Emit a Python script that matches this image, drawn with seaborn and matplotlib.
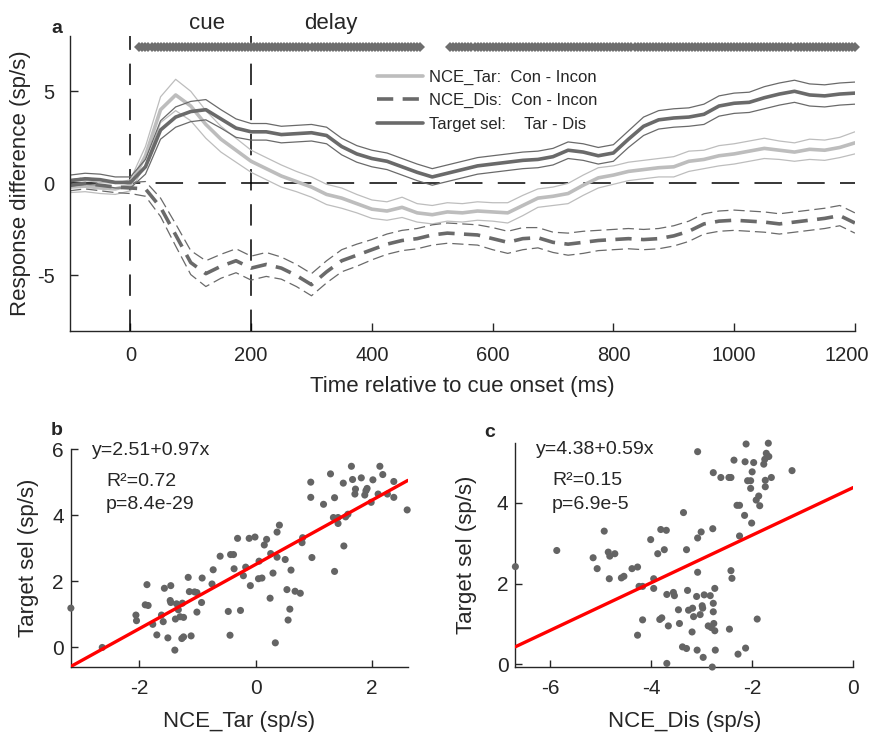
import numpy as np
import pandas as pd
import seaborn as sns
import matplotlib
matplotlib.use('Agg')
import matplotlib.pyplot as plt
import matplotlib.transforms as mtransforms

# ---- panel a: population time courses (ms, sp/s) ----
time_ms = list(range(-100, 1201, 25))

tar_mean = [-0.2, -0.15, -0.25, -0.3, -0.1, 1.5, 4.0, 4.8, 4.2, 3.2, 2.4, 1.8, 1.2,
            0.8, 0.4, 0.1, -0.2, -0.6, -0.8, -1.1, -1.4, -1.5, -1.3, -1.6, -1.7, -1.55,
            -1.6, -1.5, -1.55, -1.6, -1.2, -0.8, -0.7, -0.55, -0.1, 0.3, 0.45, 0.65,
            0.75, 0.85, 0.9, 1.2, 1.3, 1.5, 1.6, 1.75, 1.9, 1.8, 1.7, 1.85, 1.8, 1.95, 2.2]
tar_sem = [0.3, 0.3, 0.3, 0.3, 0.3, 0.5, 0.7, 0.85, 0.8, 0.75, 0.7, 0.65, 0.6,
           0.6, 0.6, 0.55, 0.55, 0.55, 0.55, 0.5, 0.5, 0.5, 0.55, 0.5, 0.5, 0.5,
           0.5, 0.5, 0.5, 0.55, 0.55, 0.5, 0.5, 0.55, 0.55, 0.55, 0.5, 0.5,
           0.5, 0.5, 0.55, 0.55, 0.5, 0.55, 0.55, 0.55, 0.55, 0.5, 0.5, 0.55, 0.55, 0.55, 0.6]

dis_mean = [-0.1, 0.0, -0.1, -0.2, -0.25, -0.3, -1.3, -2.8, -4.3, -4.9, -4.5, -4.2, -4.6,
            -4.4, -4.6, -5.0, -5.5, -4.8, -4.2, -3.9, -3.6, -3.3, -3.1, -3.0, -2.8, -2.7,
            -2.75, -2.8, -3.0, -3.2, -3.0, -2.95, -3.2, -3.3, -3.2, -3.1, -3.05, -3.0,
            -3.05, -3.0, -2.85, -2.6, -2.2, -2.05, -2.0, -2.05, -2.1, -2.2, -2.1, -2.0,
            -1.9, -1.75, -2.15]
dis_sem = [0.3, 0.3, 0.3, 0.3, 0.3, 0.4, 0.5, 0.6, 0.65, 0.7, 0.65, 0.65, 0.65,
           0.65, 0.6, 0.6, 0.6, 0.6, 0.6, 0.6, 0.55, 0.55, 0.55, 0.55, 0.55, 0.55,
           0.55, 0.55, 0.6, 0.6, 0.6, 0.55, 0.55, 0.6, 0.6, 0.55, 0.55, 0.55,
           0.55, 0.55, 0.55, 0.55, 0.55, 0.55, 0.55, 0.55, 0.55, 0.55, 0.55, 0.55,
           0.55, 0.55, 0.55]

tgt_mean = [0.15, 0.25, 0.2, 0.05, 0.05, 0.9, 2.9, 3.6, 3.9, 4.0, 3.5, 3.0, 2.8,
            2.8, 2.65, 2.7, 2.75, 2.6, 2.0, 1.6, 1.35, 1.2, 0.9, 0.6, 0.35, 0.55,
            0.75, 0.95, 1.05, 1.15, 1.25, 1.3, 1.45, 1.8, 1.7, 1.5, 1.65, 2.4,
            3.1, 3.45, 3.55, 3.6, 3.75, 4.2, 4.35, 4.4, 4.65, 4.85, 5.0, 4.8, 4.75,
            4.85, 4.9]
tgt_sem = [0.3, 0.3, 0.3, 0.3, 0.3, 0.4, 0.5, 0.55, 0.55, 0.55, 0.5, 0.5, 0.45,
           0.45, 0.45, 0.45, 0.45, 0.45, 0.45, 0.45, 0.45, 0.45, 0.45, 0.45, 0.45, 0.45,
           0.45, 0.45, 0.45, 0.45, 0.45, 0.45, 0.45, 0.45, 0.45, 0.45, 0.45, 0.45,
           0.5, 0.5, 0.5, 0.5, 0.55, 0.55, 0.55, 0.55, 0.6, 0.6, 0.6, 0.6, 0.6,
           0.6, 0.6]

# significant time windows (ms) of the target selectivity
sig_windows = [(15, 480), (530, 1200)]
sig_step = 5

# ---- panel b: Target sel vs NCE_Tar ----
b_x = [-3.18, -2.64, -2.06, -2.05, -1.87, -1.90, -1.85, -1.77, -1.70, -1.57, -1.59, -1.62,
       -1.46, -1.47, -1.46, -1.51, -1.39, -1.36, -1.33, -1.30, -1.38, -1.26, -1.27, -1.24,
       -1.24, -1.16, -1.14, -1.11, -1.05, -1.01, -1.01, -0.93, -0.92, -0.75, -0.73, -0.61,
       -0.47, -0.44, -0.43, -0.38, -0.37, -0.31, -0.26, -0.21, -0.17, -0.11, -0.09, -0.01,
       0.05, 0.06, 0.11, 0.15, 0.19, 0.25, 0.26, 0.30, 0.34, 0.37, 0.37, 0.41, 0.51, 0.54,
       0.56, 0.59, 0.61, 0.68, 0.77, 0.81, 0.80, 0.95, 0.95, 0.97, 1.17, 1.29, 1.34, 1.36,
       1.36, 1.42, 1.42, 1.51, 1.52, 1.55, 1.59, 1.65, 1.67, 1.71, 1.72, 1.82, 1.88, 1.90,
       1.92, 1.99, 2.02, 2.14, 2.19, 2.11, 2.27, 2.38, 2.38, 2.61]
b_y = [1.19, 0.00, 0.98, 0.81, 1.90, 1.29, 1.27, 0.70, 0.38, 1.79, 0.78, 0.98,
       1.87, 1.42, 1.36, 0.29, -0.08, 1.32, 1.14, 0.93, 0.86, 1.34, 0.27, 0.32,
       0.91, 2.12, 1.69, 0.35, 1.68, 1.66, 1.07, 1.36, 2.10, 1.92, 2.35, 2.76,
       1.09, 0.37, 2.81, 2.81, 2.38, 3.30, 1.12, 2.17, 2.43, 3.30, 1.87, 3.34,
       2.08, 2.61, 2.10, 3.10, 3.27, 1.49, 2.84, 2.25, 0.14, 3.49, 2.73, 3.70, 2.66, 1.75,
       0.83, 1.16, 2.34, 1.70, 1.64, 3.32, 3.17, 5.00, 4.54, 2.72, 4.33, 5.25, 3.93, 4.53,
       2.30, 3.75, 3.93, 4.97, 3.07, 3.95, 4.03, 5.48, 5.08, 4.64, 4.79, 5.13, 4.61, 4.74,
       4.81, 4.39, 5.07, 5.48, 5.23, 4.64, 4.64, 4.54, 5.02, 4.16]
b_fit = (2.51, 0.97)  # intercept, slope
b_stats = ['y=2.51+0.97x', 'R\u00b2=0.72', 'p=8.4e-29']

# ---- panel c: Target sel vs NCE_Dis ----
c_x = [-6.69, -5.87, -5.15, -5.07, -4.93, -4.85, -4.82, -4.83, -4.72, -4.59, -4.54, -4.38,
       -4.27, -4.27, -4.24, -4.17, -4.17, -4.01, -3.95, -3.95, -3.87, -3.83, -3.79, -3.81,
       -3.70, -3.74, -3.69, -3.69, -3.66, -3.56, -3.54, -3.46, -3.44, -3.36, -3.38, -3.30,
       -3.30, -3.28, -3.26, -3.19, -3.18, -3.16, -3.10, -3.08, -3.08, -3.08, -3.09, -3.03,
       -3.01, -2.99, -2.98, -2.97, -2.95, -2.87, -2.83, -2.81, -2.79, -2.78, -2.77, -2.77,
       -2.77, -2.76, -2.74, -2.74, -2.73, -2.62, -2.46, -2.42, -2.45, -2.42, -2.40, -2.36,
       -2.30, -2.25, -2.25, -2.28, -2.15, -2.14, -2.12, -2.13, -2.09, -2.03, -2.03, -2.00,
       -2.01, -1.97, -1.92, -1.87, -1.85, -1.90, -1.77, -1.75, -1.74, -1.74, -1.72, -1.70,
       -1.68, -1.67, -1.62, -1.21]
c_y = [2.42, 2.82, 2.64, 2.37, 3.30, 2.78, 2.68, 2.12, 2.74, 2.14, 2.18, 2.37,
       2.41, 0.72, 1.93, 1.93, 1.10, 3.09, 2.12, 1.88, 2.74, 1.11, 1.15, 3.34,
       3.32, 2.84, 1.73, 0.02, 0.95, 1.78, 1.70, 1.35, 1.01, 3.76, 0.43, 0.39,
       2.84, 1.83, 1.34, 0.80, 1.39, 1.18, 1.68, 5.27, 3.13, 2.28, 0.35, 1.23,
       3.28, 1.45, 1.39, 0.17, 1.72, 0.95, 1.70, 0.91, -0.07, 3.36, 4.75, 1.51,
       1.30, 1.01, 1.88, 0.83, 0.35, 4.63, 4.63, 4.63, 0.87, 2.32, 2.13, 5.06,
       3.94, 3.94, 3.18, 0.25, 3.69, 5.02, 5.46, 0.40, 4.55, 4.55, 4.36, 4.77,
       3.50, 5.00, 4.07, 4.17, 3.93, 1.12, 4.96, 5.08, 4.56, 4.40, 5.23, 5.16,
       5.48, 5.15, 4.63, 4.80]
c_fit = (4.38, 0.59)
c_stats = ['y=4.38+0.59x', 'R\u00b2=0.15', 'p=6.9e-5']

LIGHT = '#bdbdbd'
DARK = '#6a6a6a'
DOT = '#646464'

sns.set_style('ticks')
plt.rcParams['font.family'] = ['Liberation Sans', 'DejaVu Sans']
plt.rcParams['axes.unicode_minus'] = False
plt.rcParams['axes.edgecolor'] = '#262626'
plt.rcParams['axes.linewidth'] = 1.0
plt.rcParams['xtick.direction'] = 'in'
plt.rcParams['ytick.direction'] = 'in'
plt.rcParams['xtick.color'] = '#262626'
plt.rcParams['ytick.color'] = '#262626'
plt.rcParams['xtick.labelcolor'] = '#262626'
plt.rcParams['ytick.labelcolor'] = '#262626'

fig = plt.figure(figsize=(8.75, 7.35), dpi=100)
ax_a = fig.add_axes([0.080, 0.550, 0.897, 0.401])
ax_b = fig.add_axes([0.081, 0.093, 0.385, 0.296])
ax_c = fig.add_axes([0.589, 0.093, 0.386, 0.304])

df = pd.DataFrame({'t': time_ms,
                   'tar': tar_mean, 'tar_se': tar_sem,
                   'dis': dis_mean, 'dis_se': dis_sem,
                   'tgt': tgt_mean, 'tgt_se': tgt_sem})

thin_dash = (0, (9, 4))
thick_dash = (0, (4.5, 2.6))
series = [('tar', LIGHT, '-', '-', 'NCE_Tar:  Con - Incon'),
          ('dis', DARK, thin_dash, thick_dash, 'NCE_Dis:  Con - Incon'),
          ('tgt', DARK, '-', '-', 'Target sel:    Tar - Dis')]
for key, col, ls_thin, ls_thick, lab in series:
    for sign in (1, -1):
        sns.lineplot(x=df['t'], y=df[key] + sign * df[key + '_se'], ax=ax_a,
                     color=col, linewidth=0.9, linestyle=ls_thin, estimator=None)
    sns.lineplot(x=df['t'], y=df[key], ax=ax_a, color=col, linewidth=2.6,
                 linestyle=ls_thick, estimator=None, label=lab)

# reference lines
ax_a.axvline(0, color='k', lw=1.1, ls=(0, (14, 9)), zorder=1)
ax_a.axvline(200, color='k', lw=1.1, ls=(0, (14, 9)), zorder=1)
ax_a.axhline(0, color='k', lw=1.1, ls=(0, (18, 10)), zorder=1)

# significance markers
sig_t = np.concatenate([np.arange(a, b + 1, sig_step) for a, b in sig_windows])
ax_a.plot(sig_t, np.full(len(sig_t), 7.4), ls='none', marker='D', ms=5.5,
          color='#6e6e6e', mew=0, clip_on=False)

ax_a.set_xlim(-100, 1200)
ax_a.set_ylim(-8, 8)
ax_a.set_xticks([0, 200, 400, 600, 800, 1000, 1200])
ax_a.set_yticks([-5, 0, 5])
ax_a.tick_params(labelsize=14.5, length=6, width=1, pad=11)
ax_a.set_xlabel('Time relative to cue onset (ms)', fontsize=16)
ax_a.set_ylabel('Response difference (sp/s)', fontsize=16)
ax_a.xaxis.set_label_coords(0.5, -0.155)
ax_a.yaxis.set_label_coords(-0.05, 0.5)
sns.despine(ax=ax_a)
ax_a.text(127, 8.4, 'cue', fontsize=16, ha='center', va='baseline')
ax_a.text(332, 8.4, 'delay', fontsize=16, ha='center', va='baseline')

# keep the last time label inside the figure, as in the original
fig.canvas.draw()
last = ax_a.get_xticklabels()[-1]
last.set_transform(last.get_transform() +
                   mtransforms.ScaledTranslation(-8 / 100, 0, fig.dpi_scale_trans))

leg = ax_a.legend(loc='upper left', bbox_to_anchor=(0.391, 0.886), frameon=False,
                  fontsize=12, handlelength=2.75, handletextpad=0.4,
                  labelspacing=0.5, borderpad=0, borderaxespad=0)
for h in leg.get_lines():
    h.set_linewidth(2.6)

# scatter panels
for ax, xs, ys, fit, xlim, ylim, xt, yt, xl in [
        (ax_b, b_x, b_y, b_fit, (-3.18, 2.62), (-0.58, 6.0),
         [-2, 0, 2], [0, 2, 4, 6], 'NCE_Tar (sp/s)'),
        (ax_c, c_x, c_y, c_fit, (-6.69, 0.0), (-0.06, 5.48),
         [-6, -4, -2, 0], [0, 2, 4], 'NCE_Dis (sp/s)')]:
    sns.scatterplot(x=xs, y=ys, ax=ax, color=DOT, s=26, edgecolor='none',
                    clip_on=False, zorder=3)
    fx = np.array(xlim)
    sns.lineplot(x=fx, y=fit[0] + fit[1] * fx, ax=ax, color='#ff0000',
                 linewidth=2.4, zorder=4)
    ax.set_xlim(*xlim)
    ax.set_ylim(*ylim)
    ax.set_xticks(xt)
    ax.set_yticks(yt)
    ax.tick_params(labelsize=15, length=5, width=1)
    ax.tick_params(axis='x', pad=9)
    ax.tick_params(axis='y', pad=5)
    ax.set_xlabel(xl, fontsize=16)
    ax.set_ylabel('Target sel (sp/s)', fontsize=16)
    sns.despine(ax=ax)

ax_b.xaxis.set_label_coords(0.5, -0.205)
ax_c.xaxis.set_label_coords(0.5, -0.2)
ax_b.yaxis.set_label_coords(-0.095, 0.5)
ax_c.yaxis.set_label_coords(-0.115, 0.5)

# stats text
for (x0, x1, ys_), stats in [((92, 106, (455, 486, 509)), b_stats),
                             ((536, 552, (454, 485, 509)), c_stats)]:
    fig.text(x0 / 875, 1 - ys_[0] / 735, stats[0], fontsize=14, va='baseline')
    fig.text(x1 / 875, 1 - ys_[1] / 735, stats[1], fontsize=14, va='baseline')
    fig.text(x1 / 875, 1 - ys_[2] / 735, stats[2], fontsize=14, va='baseline')

# panel letters
fig.text(51 / 875, 1 - 33 / 735, 'a', fontsize=14, fontweight='bold', va='baseline')
fig.text(51 / 875, 1 - 435 / 735, 'b', fontsize=14, fontweight='bold', va='baseline')
fig.text(484 / 875, 1 - 437 / 735, 'c', fontsize=14, fontweight='bold', va='baseline')

fig.savefig('out.png', dpi=100)
